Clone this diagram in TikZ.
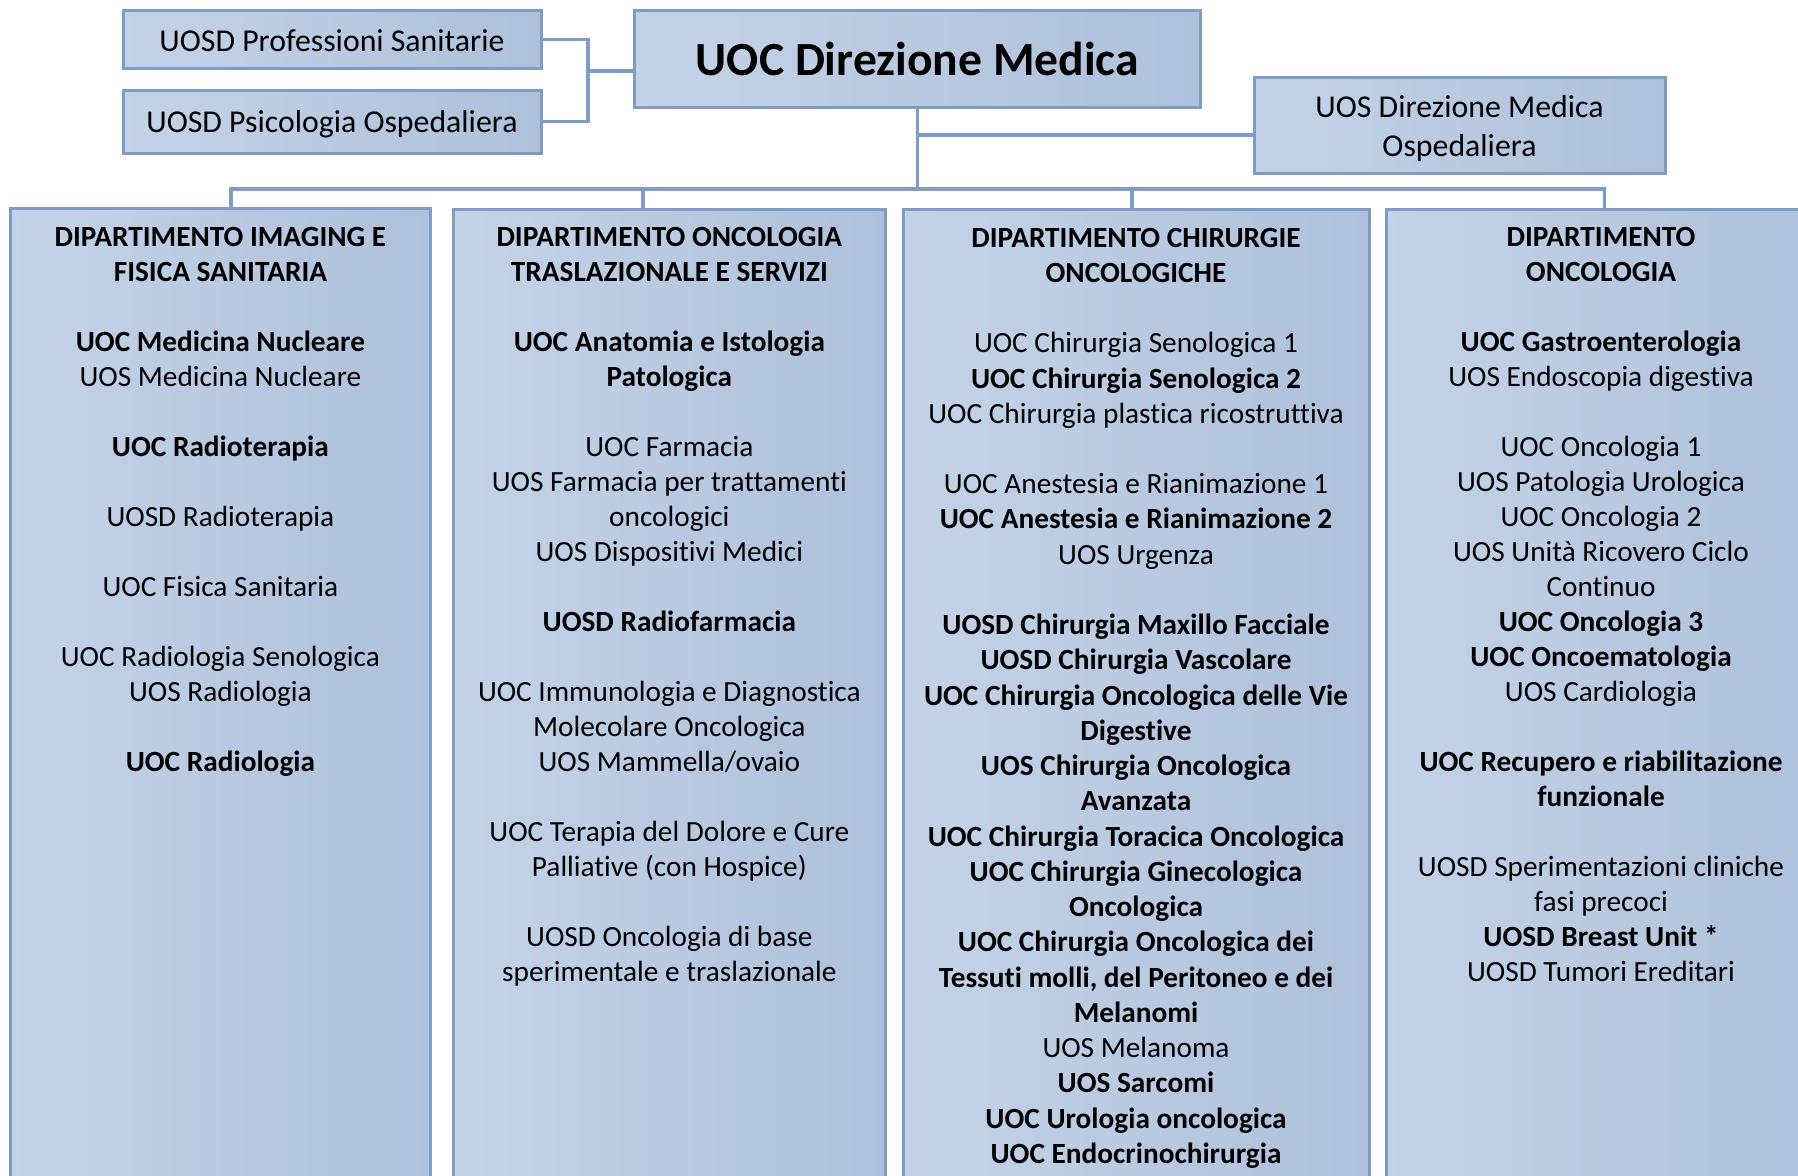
\documentclass[tikz,border=0pt]{standalone}
\usepackage{fontspec}
\setmainfont{Carlito}[Ligatures=NoCommon]
\usetikzlibrary{calc,positioning}
\definecolor{boxlight}{RGB}{196,211,231}
\definecolor{boxdark}{RGB}{174,192,219}
\definecolor{boxline}{RGB}{126,156,198}

\begin{document}
\begin{tikzpicture}[
  x=0.5pt, y=-0.5pt,
  unit/.style={rectangle,draw=boxline,line width=1.5pt,left color=boxlight,right color=boxdark,inner sep=0pt,outer sep=0pt},
  link/.style={draw=boxline,line width=1.8pt,line join=miter},
  smalltext/.style={font=\fontsize{15.9}{19.5}\selectfont},
  bodytext/.style={align=center,inner sep=0pt,anchor=north,font=\fontsize{14.65}{17.5}\selectfont},
  ]

  \useasboundingbox (0,0) rectangle (1798,1176);
  \clip (0,0) rectangle (1798,1176);

  % top level
  \node (main) [unit,minimum width=283.3pt,minimum height=48.3pt,text height=16.4pt,text depth=0pt,
    font=\bfseries\fontsize{23.8}{28}\selectfont] at (917.4,59) {UOC Direzione Medica};
  \node (prof) [unit,smalltext,minimum width=209pt,minimum height=28.8pt,text height=12.2pt,text depth=0pt] at (332,39.5) {UOSD Professioni Sanitarie};
  \node (psico) [unit,smalltext,minimum width=209pt,minimum height=31.6pt,text height=11.3pt,text depth=0pt] at (332,121.7) {UOSD Psicologia Ospedaliera};
  \node (uos) [unit,smalltext,align=center,minimum width=205.5pt,minimum height=48.2pt,text depth=0pt] at (1459.5,125.8) {UOS Direzione Medica\\Ospedaliera};

  \coordinate (side_hub) at (588,71);
  \draw[link] (prof.east) -| (side_hub) |- (psico.east);
  \draw[link] (side_hub) -- (main.west |- side_hub);

  \coordinate (hub) at (main.south |- 0,189);
  \coordinate (uos_tap) at (main.south |- 0,135);
  \draw[link] (main.south) -- (hub);
  \draw[link] (uos_tap) -- (uos.west |- uos_tap);

  % departments
  \foreach \d/\xl/\xr/\yt/\xd in {1/10.3/430.5/208.3/231, 2/453/885.7/209.3/643, 3/903/1369/210/1132, 4/1386/1816/210/1604.5}
  {
    \node (dept_\d) [unit,anchor=north,minimum width={(\xr-\xl)*0.5pt},minimum height={(1230-\yt)*0.5pt}] at ({(\xl+\xr)/2},\yt) {};
    \coordinate (drop_\d) at (\xd,189);
  }
  \draw[link] (drop_1 |- dept_1.north) -- (drop_1) -- (drop_4) -- (drop_4 |- dept_4.north);
  \foreach \d in {2,3}
    \draw[link] (drop_\d) -- (drop_\d |- dept_\d.north);

  \node (list_1) [bodytext,below=6.5pt of dept_1.north] {\strut\textbf{DIPARTIMENTO IMAGING E}\\ \textbf{FISICA SANITARIA}\\ \\
    \textbf{UOC Medicina Nucleare}\\ UOS Medicina Nucleare\\ \\ \textbf{UOC Radioterapia}\\ \\ UOSD Radioterapia\\ \\
    UOC Fisica Sanitaria\\ \\ UOC Radiologia Senologica\\ UOS Radiologia\\ \\ \textbf{UOC Radiologia}};

  \node (list_2) [bodytext,below=6pt of dept_2.north] {\strut\textbf{DIPARTIMENTO ONCOLOGIA}\\ \textbf{TRASLAZIONALE E SERVIZI}\\ \\
    \textbf{UOC Anatomia e Istologia}\\ \textbf{Patologica}\\ \\ UOC Farmacia\\ UOS Farmacia per trattamenti\\ oncologici\\
    UOS Dispositivi Medici\\ \\ \textbf{UOSD Radiofarmacia}\\ \\ UOC Immunologia e Diagnostica\\ Molecolare Oncologica\\
    UOS Mammella/ovaio\\ \\ UOC Terapia del Dolore e Cure\\ Palliative (con Hospice)\\ \\ UOSD Oncologia di base\\
    sperimentale e traslazionale};

  \node (list_3) [bodytext,below=6pt of dept_3.north,font=\fontsize{14.65}{17.62}\selectfont] {\strut\textbf{DIPARTIMENTO CHIRURGIE}\\ \textbf{ONCOLOGICHE}\\ \\
    UOC Chirurgia Senologica 1\\ \textbf{UOC Chirurgia Senologica 2}\\ UOC Chirurgia plastica ricostruttiva\\ \\
    UOC Anestesia e Rianimazione 1\\ \textbf{UOC Anestesia e Rianimazione 2}\\ UOS Urgenza\\ \\
    \textbf{UOSD Chirurgia Maxillo Facciale}\\ \textbf{UOSD Chirurgia Vascolare}\\ \textbf{UOC Chirurgia Oncologica delle Vie}\\
    \textbf{Digestive}\\ \textbf{UOS Chirurgia Oncologica}\\ \textbf{Avanzata}\\ \textbf{UOC Chirurgia Toracica Oncologica}\\
    \textbf{UOC Chirurgia Ginecologica}\\ \textbf{Oncologica}\\ \textbf{UOC Chirurgia Oncologica dei}\\
    \textbf{Tessuti molli, del Peritoneo e dei}\\ \textbf{Melanomi}\\ UOS Melanoma\\ \textbf{UOS Sarcomi}\\
    \textbf{UOC Urologia oncologica}\\ \textbf{UOC Endocrinochirurgia}};

  \node (list_4) [bodytext,below=6pt of dept_4.north] {\strut\textbf{DIPARTIMENTO}\\ \textbf{ONCOLOGIA}\\ \\
    \textbf{UOC Gastroenterologia}\\ UOS Endoscopia digestiva\\ \\ UOC Oncologia 1\\ UOS Patologia Urologica\\ UOC Oncologia 2\\
    UOS Unità Ricovero Ciclo\\ Continuo\\ \textbf{UOC Oncologia 3}\\ \textbf{UOC Oncoematologia}\\ UOS Cardiologia\\ \\
    \textbf{UOC Recupero e riabilitazione}\\ \textbf{funzionale}\\ \\ UOSD Sperimentazioni cliniche\\ fasi precoci\\
    \textbf{UOSD Breast Unit *}\\ UOSD Tumori Ereditari};

\end{tikzpicture}
\end{document}
